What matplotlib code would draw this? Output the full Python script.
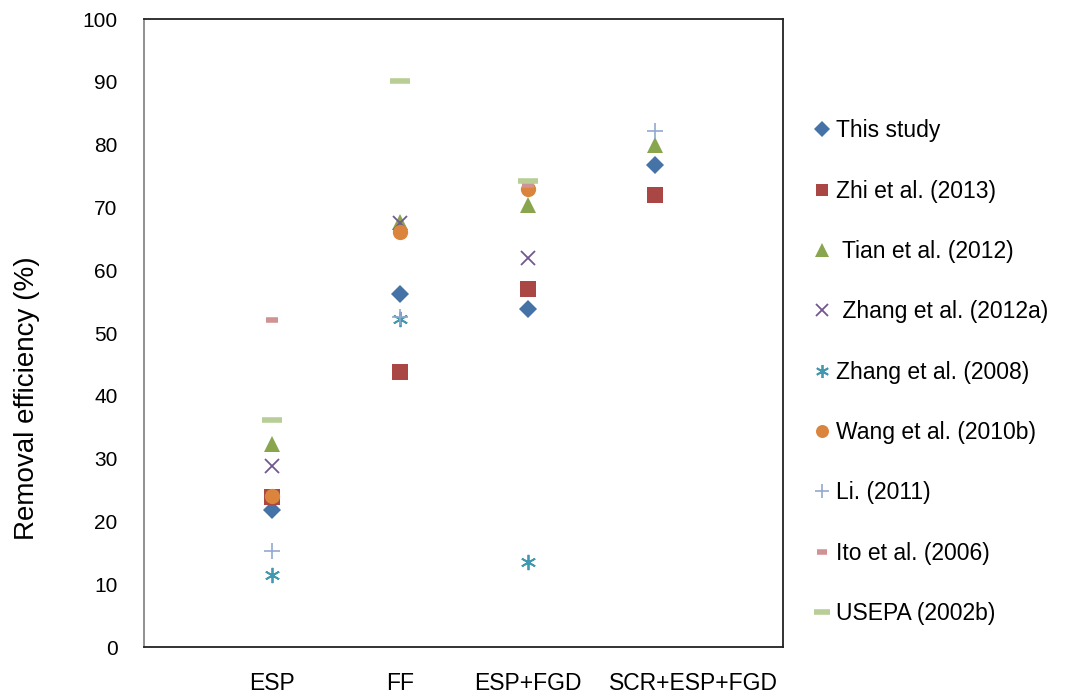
import matplotlib
matplotlib.use("Agg")
import matplotlib.pyplot as plt
import matplotlib.transforms as mtransforms

plt.rcParams['font.family'] = ['Liberation Sans', 'DejaVu Sans']

categories = ["ESP", "FF", "ESP+FGD", "SCR+ESP+FGD"]
cat_x = [1, 2, 3, 4]

this_study = [21.8, 56.2, 53.9, 76.7]
zhi_2013 = [23.9, 43.8, 57.0, 71.9]
tian_2012 = [32.3, 67.7, 70.4, 79.9]
zhang_2012a = [28.9, 67.5, 62.0, None]
zhang_2008 = [11.4, 52.3, 13.6, None]
wang_2010b = [24.0, 66.1, 73.0, None]
li_2011 = [15.3, 52.5, None, 82.2]
ito_2006 = [52.0, None, 73.6, None]
usepa_2002b = [36.1, 90.1, 74.2, None]

series = [
    ("This study", this_study, dict(marker='D', color='#4572A7', ms=9, mew=0)),
    ("Zhi et al. (2013)", zhi_2013, dict(marker='s', color='#AA4643', ms=11, mew=0)),
    (" Tian et al. (2012)", tian_2012, dict(marker='^', color='#89A54E', ms=12, mew=0)),
    (" Zhang et al. (2012a)", zhang_2012a, dict(marker='x', color='#71588F', ms=10, mew=1.3)),
    ("Zhang et al. (2008)", zhang_2008, dict(marker=(6, 2, 0), color='#4198AF', ms=11, mew=1.3)),
    ("Wang et al. (2010b)", wang_2010b, dict(marker='o', color='#DB843D', ms=11, mew=0)),
    ("Li. (2011)", li_2011, dict(marker='+', color='#93A9CF', ms=12, mew=1.2)),
    ("Ito et al. (2006)", ito_2006, dict(marker='_', color='#D19392', ms=8, mew=4)),
    ("USEPA (2002b)", usepa_2002b, dict(marker='_', color='#B9CD96', ms=14, mew=4)),
]

fig = plt.figure(figsize=(10.67, 6.97), dpi=100)
ax = fig.add_axes([0.135, 0.0717, 0.599, 0.901])

handles = []
for name, vals, st in series:
    xs = [x for x, v in zip(cat_x, vals) if v is not None]
    ys = [v for v in vals if v is not None]
    h, = ax.plot(xs, ys, linestyle='none', marker=st['marker'], color=st['color'],
                 markersize=st['ms'], markeredgewidth=st['mew'], label=name, zorder=3)
    handles.append(h)

ax.set_xlim(0, 5)
ax.set_ylim(0, 100)
ax.set_yticks(range(0, 101, 10))
ax.set_xticks(cat_x)
ax.set_xticklabels(categories)
ax.tick_params(axis='both', length=0)
ax.tick_params(axis='x', pad=18, labelsize=16.5)
ax.tick_params(axis='y', pad=19, labelsize=15)
lbls = ax.get_xticklabels()
off = mtransforms.ScaledTranslation(0.38, 0, fig.dpi_scale_trans)
lbls[-1].set_transform(lbls[-1].get_transform() + off)

for s in ['top', 'right', 'bottom']:
    ax.spines[s].set_color('#222222')
    ax.spines[s].set_linewidth(1.3)
ax.spines['left'].set_color('#888888')
ax.spines['left'].set_linewidth(1.3)

ax.set_ylabel("Removal efficiency (%)", fontsize=20, va='center')
ax.yaxis.set_label_coords(-0.183, 0.396)

leg = fig.legend(handles=handles, loc='upper left', bbox_to_anchor=(0.752, 0.842),
                 frameon=False, fontsize=16.5, labelspacing=1.63, handlelength=0.9,
                 handletextpad=0.15, markerscale=0.85, borderaxespad=0)

fig.savefig("out.png", dpi=100)
